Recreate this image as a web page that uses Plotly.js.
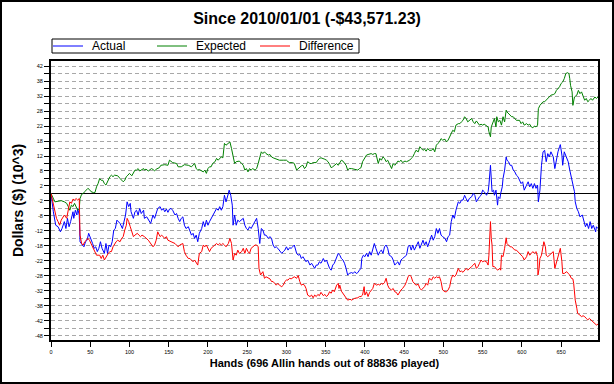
<!DOCTYPE html>
<html><head><meta charset="utf-8">
<script src="https://cdn.plot.ly/plotly-3.0.1.min.js"></script>
<style>
html,body{margin:0;padding:0;background:#fff;}
#wrap{position:relative;width:614px;height:384px;}
#chart{width:614px;height:384px;}
#frame{position:absolute;left:0;top:0;width:614px;height:384px;box-sizing:border-box;border:2px solid #000;pointer-events:none;}
</style></head>
<body><div id="wrap"><div id="chart"></div><div id="frame"></div></div>
<script>
// values in thousands of dollars, x = hand index
const actualPts = [[0,0],[1,-2.2],[3,-6.1],[6,-10.6],[9,-11.1],[12,-12.8],[14,-11.7],[17,-9.4],[19,-11.7],[21,-8.3],[23,-11.1],[25,-9.4],[28,-6.1],[29,-8.3],[31,-5.6],[33,-7.2],[34,-5.0],[36,-7.2],[37,-16.1],[40,-17.2],[42,-17.8],[44,-16.1],[46,-15.6],[48,-13.3],[51,-15.0],[53,-16.7],[55,-18.3],[57,-17.8],[59,-19.4],[61,-18.3],[63,-16.1],[65,-18.3],[68,-20.0],[70,-16.7],[72,-20.0],[74,-17.2],[76,-17.8],[78,-16.1],[80,-12.2],[82,-11.7],[84,-8.9],[86,-9.4],[88,-10.0],[91,-11.7],[93,-9.4],[95,-7.2],[97,-2.8],[99,-4.4],[101,-3.3],[102,-6.1],[105,-8.3],[107,-6.1],[109,-5.6],[111,-7.2],[113,-5.0],[115,-6.7],[118,-5.6],[119,-8.3],[122,-7.8],[124,-8.9],[127,-10.0],[130,-7.2],[132,-8.3],
[136,-5.0],[139,-4.4],[141,-5.6],[143,-5.0],[145,-6.1],[147,-5.2],[149,-6.3],[151,-5.2],[153,-5.0],[155,-5.6],[158,-7.2],[160,-6.7],[162,-8.3],[164,-9.4],[166,-8.3],[168,-7.8],[170,-10.6],[172,-11.7],[175,-11.1],[177,-12.8],[179,-13.9],[181,-13.3],[183,-15.0],[185,-13.9],[187,-16.1],[189,-13.3],[192,-11.7],[194,-9.4],[196,-11.1],[198,-8.9],[200,-10.6],[202,-9.4],[204,-8.3],[206,-7.2],[209,-6.1],[211,-5.0],[213,-5.6],[215,-4.4],[217,-5.6],[219,-4.4],[221,-0.6],[223,-2.8],[226,0],[227,1.1],[229,-0.6],[231,-3.9],[232,-10.6],[234,-7.2],[236,-10.6],[238,-8.9],[240,-9.4],[243,-8.9],[245,-8.3],[247,-10.6],[249,-11.7],[251,-12.2],[253,-11.1],[255,-11.7],[257,-10.6],[260,-9.4],[262,-8.3],[264,-11.7],[266,-16.7],[268,-11.7],[270,-12.2],[272,-13.9],
[274,-13.9],[277,-15.0],[279,-14.4],[281,-15.0],[283,-17.2],[285,-18.1],[287,-17.8],[289,-18.3],[291,-18.9],[294,-20.0],[296,-19.4],[298,-18.9],[300,-17.8],[302,-18.9],[304,-18.1],[306,-18.3],[308,-17.8],[310,-17.2],[313,-20.0],[315,-20.6],[317,-20.3],[319,-21.7],[321,-21.1],[323,-22.2],[325,-22.8],[327,-22.2],[330,-23.9],[332,-23.3],[334,-24.4],[336,-25.0],[338,-23.9],[340,-23.9],[342,-22.8],[344,-23.3],[347,-21.7],[349,-22.8],[351,-22.2],[353,-23.9],[355,-25.0],[357,-25.6],[359,-23.9],[361,-23.3],[364,-21.1],[366,-20.0],[368,-20.6],[370,-21.7],[372,-22.2],[374,-23.3],[376,-25.0],[378,-27.2],[380,-26.7],[383,-26.4],[385,-26.7],[387,-26.1],[389,-26.7],[391,-26.4],[393,-25.6],[395,-25.0],[396,-21.7],[398,-20.6],[400,-21.1],[402,-20.0],[404,-21.1],[406,-19.4],[408,-20.6],[410,-18.3],[412,-16.7],
[414,-18.3],[417,-20.6],[419,-19.4],[421,-18.9],[423,-20.0],[425,-17.8],[427,-17.2],[429,-18.3],[431,-20.6],[434,-21.1],[436,-22.2],[438,-23.9],[440,-23.3],[442,-22.8],[444,-23.9],[446,-22.2],[448,-21.7],[451,-21.1],[453,-20.6],[455,-17.8],[457,-17.2],[459,-18.9],[461,-17.2],[463,-18.9],[465,-17.8],[468,-16.1],[470,-18.3],[472,-17.2],[474,-15.6],[476,-17.2],[478,-16.1],[480,-17.8],[482,-16.1],[485,-13.9],[487,-15.6],[489,-14.4],[491,-11.7],[493,-13.3],[495,-11.7],[497,-13.9],[499,-14.4],[502,-15.0],[504,-16.1],[506,-14.4],[508,-13.9],[510,-9.4],[512,-7.2],[514,-8.3],[516,-5.6],[519,-2.8],[521,-3.3],[523,-2.2],[525,-2.2],[527,-0.6],[529,-1.7],[531,-2.8],[533,-1.7],[536,-1.1],[538,0],[540,-0.6],[542,-2.8],[544,-1.7],[546,-1.1],[548,-0.6],[550,1.1],[552,0.6],
[555,-0.6],[557,0.6],[558,2.8],[560,9.4],[561,3.9],[562,0.6],[564,1.1],[565,-0.6],[567,1.1],[568,-1.7],[569,-3.9],[570,-1.1],[572,-1.7],[573,0],[575,2.2],[576,5.0],[578,7.8],[580,12.2],[581,11.1],[583,10.6],[585,9.4],[587,9.4],[589,7.8],[591,7.2],[593,6.1],[595,5.6],[597,4.4],[599,3.3],[601,3.9],[603,1.1],[606,2.8],[608,3.9],[610,2.2],[612,3.3],[614,1.7],[616,3.3],[618,1.7],[620,2.8],[621,-2.8],[623,1.1],[625,9.4],[627,13.9],[629,14.4],[631,10.6],[633,13.3],[635,12.2],[637,13.9],[640,12.2],[642,8.3],[644,11.7],[646,13.9],[648,15.6],[649,16.3],[651,12.8],[652,9.4],[654,13.9],[657,12.2],[659,10.6],[661,7.8],[663,5.6],[665,3.3],[667,0.6],[668,-2.8],[670,-5.0],[672,-6.1],[674,-7.8],[677,-7.2],[679,-9.4],[681,-11.1],[683,-10.0],[685,-11.7],[687,-9.4],[689,-11.7],[691,-10.6],[694,-12.8],[695,-11.1],[697,-11.7]];

const expectedPts = [[0,0],[3,-1.7],[5,-2.8],[9,-2.6],[13,-2.4],[17,-2.8],[20,-3.3],[22,-4.4],[24,-5.6],[26,-3.9],[28,-4.4],[30,-3.3],[32,-4.4],[34,-5.6],[36,-5.0],[37,-1.7],[39,-0.3],[41,0],[43,0.6],[45,1.1],[47,1.7],[49,1.3],[51,0.6],[54,0.3],[56,0.3],[58,2.2],[60,3.3],[62,5.0],[64,4.4],[66,4.4],[68,3.3],[70,2.8],[73,4.4],[75,5.6],[77,6.1],[79,5.6],[81,6.1],[83,6.1],[85,5.9],[88,5.0],[90,4.4],[92,3.9],[94,4.4],[96,5.6],[98,6.1],[100,6.7],[103,5.9],[104,6.3],[107,7.8],[109,7.8],[111,8.3],[113,7.5],[115,7.8],[118,8.3],[119,7.8],[121,8.1],[124,7.5],[126,7.8],[128,8.3],[130,8.0],[132,7.5],[134,8.1],[136,8.3],[138,8.6],
[140,9.4],[145,9.6],[149,9.4],[151,11.1],[155,10.3],[160,10.0],[162,8.9],[166,8.9],[170,9.6],[175,9.4],[179,8.9],[183,10.0],[185,8.3],[187,7.8],[189,8.0],[192,7.5],[194,7.2],[196,7.8],[198,6.7],[200,8.3],[202,8.9],[204,8.9],[206,10.0],[209,10.6],[211,11.7],[213,11.1],[215,11.7],[217,12.2],[219,11.9],[221,16.7],[223,16.1],[226,16.7],[228,17.2],[230,15.0],[232,12.8],[234,10.0],[236,10.6],[238,10.6],[240,10.8],[243,10.0],[245,9.4],[247,7.8],[249,8.3],[251,7.2],[253,8.3],[255,7.8],[257,8.3],[260,7.8],[262,8.3],[264,10.0],[266,11.7],[268,13.9],[270,13.3],[272,13.9],
[274,13.3],[277,12.8],[279,13.0],[281,12.2],[283,11.9],[285,11.7],[287,11.4],[291,11.1],[296,11.1],[300,11.1],[302,10.6],[304,10.3],[308,10.3],[310,10.0],[313,7.8],[315,8.3],[317,8.9],[319,9.2],[321,9.4],[323,8.3],[325,8.9],[327,10.6],[330,10.0],[332,10.0],[334,10.3],[336,10.3],[338,10.3],[340,11.1],[342,11.7],[344,11.9],[347,11.7],[349,11.4],[351,11.1],[353,10.6],[355,9.7],[357,8.6],[359,8.9],[361,9.4],[364,10.0],[366,9.4],[368,10.3],[370,11.1],[372,10.8],[374,10.0],[376,9.4],[378,7.8],[380,8.3],[383,8.3],[387,8.1],[391,7.8],[393,8.3],[395,8.6],[397,10.6],[400,12.2],[402,12.8],[404,13.0],[406,13.1],[408,13.3],[410,13.0],[412,13.3],[414,13.3],[415,11.7],[417,10.0],
[419,11.7],[421,11.1],[423,12.2],[425,11.7],[427,10.6],[429,11.1],[431,10.0],[434,8.3],[436,10.0],[438,9.4],[440,10.0],[442,10.8],[444,10.6],[446,11.1],[448,10.3],[451,10.8],[453,10.6],[455,10.8],[457,11.1],[459,11.7],[461,12.2],[463,13.3],[465,14.4],[468,13.9],[470,15.6],[472,15.0],[474,14.4],[476,14.8],[478,14.1],[480,15.0],[482,14.4],[485,14.4],[487,15.0],[489,13.9],[491,16.1],[493,16.7],[495,17.2],[497,18.3],[499,17.8],[502,18.1],[504,17.2],[506,17.8],[508,18.9],[510,20.0],[512,21.1],[514,20.6],[516,22.8],[519,23.3],[521,23.3],[523,23.9],[525,24.4],[527,25.6],[529,25.0],[531,23.9],[533,24.4],[536,25.0],[538,23.9],[540,23.3],[542,24.2],[544,23.3],[546,22.8],[548,23.1],[550,22.8],[552,23.1],
[555,22.5],[557,22.2],[558,20.6],[560,18.9],[561,22.2],[563,23.9],[565,25.0],[567,22.2],[568,25.6],[570,23.9],[572,24.4],[574,22.8],[576,25.6],[578,23.9],[580,27.8],[581,27.2],[583,26.7],[585,26.1],[587,25.6],[589,25.6],[591,25.0],[593,24.4],[595,24.4],[597,24.4],[599,23.3],[601,23.9],[603,22.8],[606,23.3],[608,22.8],[610,23.1],[612,22.2],[614,21.9],[616,22.5],[618,22.2],[620,22.8],[621,28.3],[623,29.4],[625,30.0],[627,30.6],[629,30.6],[631,31.1],[633,31.7],[635,32.2],[637,32.8],[640,33.0],[642,33.3],[644,34.4],[646,35.0],[648,35.6],[650,36.7],[652,37.2],[654,38.3],[656,40.0],[658,40.3],[660,40.0],[661,38.3],[662,36.1],[664,33.9],[665,29.4],[667,32.2],[670,32.8],[672,34.4],[674,33.3],[676,33.9],[678,32.2],[680,31.1],[682,31.7],[684,30.6],[686,31.1],[688,31.7],[690,31.1],[693,32.2],[695,31.7],[697,32.2]];

const differencePts = [[0,0],[3,-3.3],[5,-6.1],[7,-8.3],[9,-9.4],[11,-10.6],[13,-8.9],[15,-7.8],[17,-7.2],[20,-8.3],[22,-5.6],[24,-2.8],[26,-3.3],[28,-1.9],[30,-2.2],[32,-1.7],[34,-2.2],[36,-1.7],[37,-13.9],[39,-16.7],[41,-17.2],[43,-16.1],[45,-15.6],[47,-15.0],[49,-15.6],[51,-16.7],[53,-17.8],[56,-19.4],[58,-20.6],[60,-20.6],[62,-20.6],[64,-21.7],[66,-20.6],[68,-22.2],[70,-21.1],[73,-20.0],[75,-19.4],[77,-19.4],[79,-17.8],[81,-16.7],[83,-16.1],[85,-15.6],[88,-16.1],[90,-15.0],[92,-14.4],[94,-12.2],[96,-10.6],[97,-8.3],[99,-9.4],[101,-11.1],[103,-12.8],[105,-14.4],[107,-13.9],[110,-13.3],[112,-13.9],[114,-14.4],[116,-13.9],[119,-14.4],[124,-15.6],[128,-17.2],[130,-17.8],[132,-17.2],
[134,-15.6],[136,-12.8],[139,-14.4],[141,-13.9],[143,-14.4],[145,-15.0],[147,-14.4],[149,-15.6],[153,-16.1],[158,-16.7],[162,-17.8],[164,-17.2],[168,-16.7],[170,-19.4],[172,-20.6],[175,-21.7],[177,-21.7],[179,-22.2],[181,-22.8],[183,-22.2],[185,-23.3],[187,-23.9],[189,-20.0],[192,-19.4],[194,-17.2],[196,-17.8],[198,-17.2],[200,-18.3],[202,-19.4],[204,-18.3],[206,-17.8],[209,-17.2],[211,-16.7],[213,-17.2],[215,-16.7],[217,-17.2],[219,-16.7],[221,-17.2],[223,-17.8],[226,-16.7],[228,-15.0],[230,-16.7],[232,-22.2],[234,-20.0],[236,-20.6],[238,-18.9],[240,-20.0],[243,-19.4],[245,-18.3],[247,-20.0],[249,-18.3],[251,-19.4],[253,-20.0],[255,-18.3],[257,-17.8],[260,-17.2],[262,-17.2],[264,-17.8],[265,-25.0],[267,-27.2],[270,-26.1],[272,-28.3],
[274,-27.8],[277,-28.3],[279,-28.5],[281,-29.4],[283,-29.4],[285,-30.0],[287,-30.6],[289,-30.0],[291,-30.6],[294,-31.1],[296,-30.6],[298,-29.4],[300,-28.9],[302,-28.9],[304,-28.3],[306,-28.5],[308,-28.1],[310,-27.8],[313,-28.3],[315,-27.4],[317,-29.4],[319,-30.6],[321,-30.3],[323,-30.6],[325,-31.7],[327,-33.9],[330,-34.4],[332,-33.9],[334,-34.8],[336,-33.9],[338,-34.4],[340,-33.7],[342,-34.1],[344,-33.0],[347,-34.1],[349,-33.7],[351,-34.4],[353,-33.9],[355,-32.8],[357,-33.3],[359,-32.2],[361,-32.8],[364,-30.6],[366,-30.0],[367,-31.7],[368,-30.6],[370,-32.6],[372,-33.3],[374,-33.9],[376,-35.0],[378,-35.6],[381,-35.3],[383,-35.6],[385,-35.3],[387,-35.0],[391,-34.8],[393,-34.4],[395,-34.4],[397,-33.9],[399,-31.1],[400,-33.9],[402,-32.8],[404,-34.4],[406,-33.0],[408,-32.2],[410,-31.7],[412,-30.0],[415,-30.6],[417,-30.3],
[419,-30.6],[421,-30.0],[423,-30.3],[425,-29.7],[427,-28.3],[429,-30.6],[431,-31.7],[434,-32.2],[436,-31.7],[438,-32.8],[440,-33.0],[442,-33.9],[444,-32.8],[446,-32.2],[448,-31.7],[451,-30.6],[453,-29.4],[455,-27.8],[457,-27.2],[459,-27.8],[461,-29.4],[463,-30.0],[465,-30.6],[468,-30.3],[470,-31.7],[472,-32.2],[474,-31.7],[476,-31.1],[478,-30.0],[480,-30.6],[482,-28.3],[485,-28.9],[487,-27.8],[489,-28.3],[491,-27.8],[493,-28.1],[495,-27.8],[497,-29.4],[499,-32.2],[502,-32.8],[504,-32.8],[506,-32.2],[508,-31.1],[510,-28.5],[512,-27.2],[514,-27.8],[516,-27.2],[519,-25.0],[521,-26.1],[523,-25.9],[525,-26.3],[527,-25.6],[529,-25.0],[531,-25.6],[533,-25.0],[536,-24.4],[538,-23.9],[540,-23.3],[542,-25.0],[544,-24.4],[546,-23.3],[548,-22.2],[550,-22.8],[552,-22.5],
[555,-22.8],[557,-23.9],[558,-20.6],[560,-9.4],[561,-15.0],[562,-17.2],[563,-24.4],[565,-24.4],[567,-25.0],[569,-25.6],[572,-25.0],[573,-25.6],[574,-20.6],[576,-21.1],[578,-18.3],[580,-14.8],[581,-16.7],[583,-17.2],[585,-17.8],[587,-17.8],[589,-18.3],[591,-18.9],[593,-18.9],[595,-19.4],[597,-20.0],[599,-20.6],[601,-21.1],[603,-22.2],[606,-21.1],[608,-19.4],[610,-20.6],[612,-20.0],[614,-19.4],[616,-20.0],[618,-19.4],[620,-21.1],[620.5,-27.2],[622,-25.0],[623,-21.7],[625,-20.6],[627,-16.7],[628,-16.1],[630,-17.8],[631,-20.6],[633,-21.1],[635,-20.6],[637,-20.3],[640,-19.4],[642,-25.0],[644,-22.8],[646,-20.6],[648,-19.4],[649,-18.3],[651,-22.8],[652,-26.7],[654,-26.7],[657,-26.1],[659,-26.7],[661,-27.2],[663,-28.3],[665,-28.5],[666,-30.0],[668,-35.6],[670,-38.3],[671,-40.0],[674,-40.6],[676,-41.1],[678,-40.8],[680,-41.1],[682,-41.7],[684,-42.2],[686,-41.7],[688,-42.2],[691,-42.8],[693,-43.3],[695,-43.9],[697,-43.6]];

const seriesNames = ['Actual','Expected','Difference'];
const xTickVals = [0,50,100,150,200,250,300,350,400,450,500,550,600,650];
const yTickVals = [-47.5,-42.5,-37.5,-32.5,-27.5,-22.5,-17.5,-12.5,-7.5,-2.5,2.5,7.5,12.5,17.5,22.5,27.5,32.5,37.5,42.5];
const yTickText = ['-48','-42','-38','-32','-28','-22','-18','-12','-8','-2','2','8','12','18','22','28','32','38','42'];

const colors = ['#0000ff','#008000','#ff0000'];
const sets = [actualPts, expectedPts, differencePts];
const FONT = 'Liberation Sans, Arial, sans-serif';

const data = sets.map((pts,i)=>({
  type:'scatter', mode:'lines', name: seriesNames[i],
  x: pts.map(p=>p[0]), y: pts.map(p=>p[1]),
  line:{color:colors[i], width:1}, hoverinfo:'skip'
}));

// legend drawn as a boxed row above the plot (pixel layout converted to paper units)
const M = {l:51, r:16, t:61, b:44};
const PW = 614 - M.l - M.r, PH = 384 - M.t - M.b;
const px = v => (v - M.l) / PW;
const py = v => (384 - M.b - v) / PH;
const legLineX = [53, 157, 260];
const shapes = [{type:'rect', xref:'paper', yref:'paper', x0:px(52), x1:px(359), y0:py(53), y1:py(39),
                 line:{color:'#000', width:1}, fillcolor:'rgba(0,0,0,0)'}];
const annotations = [];
seriesNames.forEach((n,i)=>{
  shapes.push({type:'line', xref:'paper', yref:'paper', x0:px(legLineX[i]), x1:px(legLineX[i]+30),
               y0:py(46), y1:py(46), line:{color:colors[i], width:1}});
  annotations.push({xref:'paper', yref:'paper', x:px(legLineX[i]+37), y:py(46.5), xanchor:'left', yanchor:'middle',
                    text:n, showarrow:false, font:{family:FONT, size:12, color:'#000'}});
});

const layout = {
  width:614, height:384,
  margin:M,
  paper_bgcolor:'#fff', plot_bgcolor:'#fff',
  font:{family:FONT, color:'#000'},
  title:{text:'Since 2010/01/01 (-$43,571.23)', font:{family:FONT, size:16, weight:'bold', color:'#000'},
         x:0.5, xref:'container', y:0.953, yref:'container', yanchor:'middle'},
  showlegend:false,
  shapes:shapes, annotations:annotations,
  xaxis:{range:[0,697], tickmode:'array', tickvals:xTickVals,
         ticks:'outside', ticklen:5, tickwidth:1, tickcolor:'#000',
         tickfont:{family:FONT, size:5.5, color:'#000'},
         showline:true, linecolor:'#000', linewidth:2, mirror:true,
         showgrid:false, zeroline:false,
         title:{text:'Hands (696 Allin hands out of 88836 played)', font:{family:FONT, size:11, weight:'bold', color:'#000'}, standoff:6}},
  yaxis:{range:[-48.9,44.2], tickmode:'array', tickvals:yTickVals, ticktext:yTickText,
         ticks:'outside', ticklen:5, tickwidth:1, tickcolor:'#000',
         tickfont:{family:FONT, size:5.5, color:'#000'},
         showline:true, linecolor:'#000', linewidth:2, mirror:true,
         showgrid:true, gridcolor:'#a8a8a8', gridwidth:1, griddash:'4px,3px',
         zeroline:true, zerolinecolor:'#000', zerolinewidth:1.5,
         minor:{tickmode:'linear', tick0:0, dtick:5, ticks:'outside', ticklen:5, tickcolor:'#000',
                showgrid:true, gridcolor:'#a8a8a8', gridwidth:1, griddash:'4px,3px'},
         title:{text:'Dollars ($) (10^3)', font:{family:FONT, size:14, weight:'bold', color:'#000'}, standoff:8}}
};

Plotly.newPlot('chart', data, layout, {displayModeBar:false, staticPlot:true});
</script></body></html>
